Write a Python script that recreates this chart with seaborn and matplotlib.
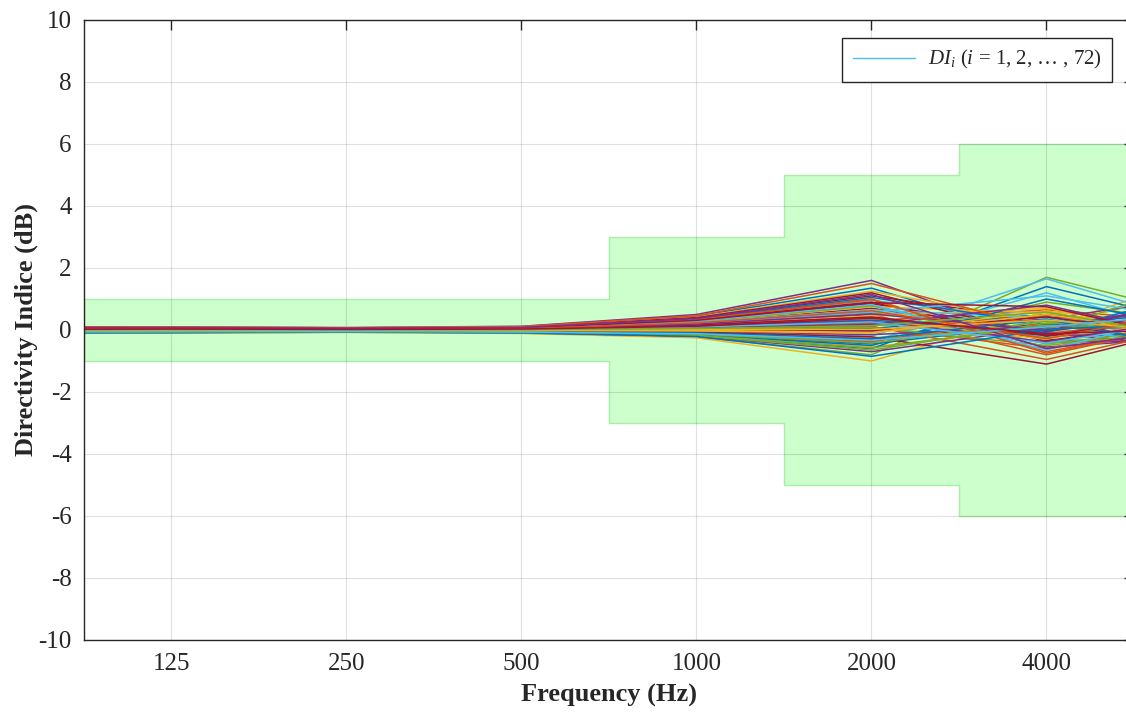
import matplotlib.pyplot as plt
from matplotlib.lines import Line2D
import numpy as np
import pandas as pd
import seaborn as sns

# octave-band centre frequencies (63 and 8000 only set the line ends outside the view)
freqs = [63, 125, 250, 500, 1000, 2000, 4000, 8000]
tick_freqs = [125, 250, 500, 1000, 2000, 4000]
tick_labels = ['125', '250', '500', '1000', '2000', '4000']

# tolerance mask: band edges (Hz) and +/- limit (dB)
mask_edges = [88.4, 707, 1414, 2828, 5657]
mask_limits = [1, 3, 5, 6]

# directivity index of each of the 72 microphones, one list per band
di_63 = [0.05, -0.08, 0.10, 0.02, -0.04, 0.07, -0.10, 0.03, 0.08, -0.06, 0.01, -0.02,
         0.09, -0.09, 0.04, 0.06, -0.05, 0.00, 0.11, -0.07, 0.02, -0.03, 0.05, -0.01,
         0.08, -0.11, 0.03, 0.06, -0.04, 0.10, -0.08, 0.01, 0.04, -0.06, 0.07, -0.02,
         0.09, -0.05, 0.02, 0.05, -0.09, 0.00, 0.06, -0.03, 0.08, -0.07, 0.03, 0.01,
         -0.10, 0.07, -0.01, 0.04, 0.10, -0.04, 0.02, -0.08, 0.06, 0.03, -0.05, 0.09,
         -0.02, 0.05, -0.06, 0.01, 0.07, -0.09, 0.04, -0.03, 0.08, 0.00, -0.07, 0.02]
di_125 = [0.06, -0.07, 0.09, 0.01, -0.05, 0.08, -0.09, 0.02, 0.07, -0.04, 0.03, -0.01,
          0.10, -0.08, 0.05, 0.04, -0.06, 0.01, 0.09, -0.05, 0.03, -0.02, 0.06, -0.03,
          0.07, -0.10, 0.02, 0.05, -0.03, 0.08, -0.07, 0.00, 0.05, -0.05, 0.06, -0.01,
          0.08, -0.06, 0.01, 0.04, -0.08, 0.02, 0.05, -0.02, 0.07, -0.06, 0.04, 0.00,
          -0.09, 0.06, -0.02, 0.03, 0.09, -0.03, 0.01, -0.07, 0.05, 0.02, -0.04, 0.08,
          -0.01, 0.04, -0.05, 0.02, 0.06, -0.08, 0.03, -0.02, 0.07, 0.01, -0.06, 0.03]
di_250 = [0.04, -0.06, 0.07, 0.02, -0.04, 0.06, -0.07, 0.01, 0.05, -0.03, 0.02, -0.02,
          0.08, -0.06, 0.04, 0.03, -0.05, 0.00, 0.07, -0.04, 0.02, -0.03, 0.05, -0.02,
          0.06, -0.08, 0.01, 0.04, -0.02, 0.06, -0.05, 0.01, 0.04, -0.04, 0.05, -0.01,
          0.06, -0.05, 0.02, 0.03, -0.06, 0.01, 0.04, -0.03, 0.05, -0.05, 0.03, 0.01,
          -0.07, 0.05, -0.01, 0.02, 0.07, -0.02, 0.00, -0.05, 0.04, 0.02, -0.03, 0.06,
          -0.02, 0.03, -0.04, 0.01, 0.05, -0.06, 0.02, -0.01, 0.05, 0.00, -0.05, 0.02]
di_500 = [0.08, -0.05, 0.10, 0.03, -0.07, 0.09, -0.10, 0.02, 0.06, -0.04, 0.04, -0.03,
          0.12, -0.08, 0.05, 0.06, -0.06, 0.01, 0.10, -0.05, 0.03, -0.04, 0.07, -0.02,
          0.09, -0.11, 0.02, 0.05, -0.03, 0.08, -0.07, 0.02, 0.06, -0.06, 0.07, -0.01,
          0.09, -0.07, 0.03, 0.04, -0.09, 0.01, 0.06, -0.04, 0.08, -0.06, 0.04, 0.01,
          -0.10, 0.07, -0.02, 0.03, 0.11, -0.03, 0.01, -0.08, 0.05, 0.03, -0.05, 0.09,
          -0.02, 0.05, -0.06, 0.02, 0.07, -0.09, 0.04, -0.02, 0.08, 0.01, -0.07, 0.03]
di_1000 = [0.32, -0.05, 0.45, 0.12, -0.15, 0.28, -0.22, 0.08, 0.38, 0.02, 0.18, -0.08,
           0.50, -0.12, 0.22, 0.25, -0.18, 0.05, 0.42, -0.02, 0.15, -0.10, 0.30, 0.04,
           0.35, -0.25, 0.10, 0.20, -0.06, 0.33, -0.14, 0.06, 0.26, -0.04, 0.27, 0.01,
           0.40, -0.16, 0.09, 0.17, -0.20, 0.03, 0.24, -0.07, 0.36, -0.11, 0.14, 0.07,
           -0.19, 0.29, 0.00, 0.13, 0.46, -0.03, 0.11, -0.13, 0.21, 0.16, -0.09, 0.34,
           -0.01, 0.19, -0.17, 0.10, 0.31, -0.21, 0.23, 0.02, 0.37, 0.05, -0.12, 0.12]
di_2000 = [0.95, -0.30, 1.35, 0.30, -0.55, 0.80, -0.80, 0.20, 1.10, 0.05, 0.50, -0.25,
           1.60, -0.40, 0.60, 0.70, -0.60, 0.10, 1.25, -0.05, 0.40, -0.35, 0.85, 0.15,
           1.00, -1.00, 0.25, 0.55, -0.20, 0.90, -0.45, 0.12, 0.75, -0.15, 0.78, 0.00,
           1.20, -0.50, 0.22, 0.45, -0.70, 0.08, 0.65, -0.22, 1.05, -0.38, 0.35, 0.18,
           -0.65, 0.82, -0.02, 0.32, 1.50, -0.10, 0.28, -0.42, 0.58, 0.42, -0.28, 0.98,
           -0.08, 0.52, -0.58, 0.26, 0.88, -0.85, 0.62, 0.02, 1.15, 0.14, -0.33, 0.38]
di_4000 = [0.40, 0.20, -0.30, 0.65, 0.10, -0.55, 1.70, -0.20, 0.30, 0.50, -0.80, 0.05,
           -0.40, 0.90, 0.15, -0.10, 1.40, -0.60, 0.25, 0.35, -0.25, 1.20, -0.05, 0.45,
           -0.70, 0.60, -0.15, 0.00, 1.65, -0.35, 0.20, -0.95, 0.55, 0.12, -0.45, 0.30,
           -0.20, 1.00, -0.10, 0.70, 0.08, -0.50, 0.38, -1.10, 0.18, 0.48, -0.30, 0.80,
           0.22, -0.65, 0.42, -0.08, 0.05, 0.62, -0.38, 0.28, 1.10, -0.18, 0.35, -0.75,
           0.50, -0.02, 0.15, -0.42, 0.75, 0.02, -0.28, 0.32, -0.60, 0.58, 0.10, -0.12]
di_8000 = [0.10, 0.80, -0.50, 0.20, 1.50, -0.20, 0.30, 0.60, -0.80, 0.00, 0.40, 2.00,
           -0.30, 0.15, 0.90, -0.60, 0.05, 0.50, -0.10, 1.20, 0.25, -0.40, 0.70, -0.90,
           0.35, 0.10, -0.25, 1.80, 0.00, 0.45, -0.70, 0.30, -0.15, 0.85, 0.20, -1.00,
           0.55, -0.05, 0.40, -0.35, 1.00, 0.12, -0.55, 0.30, 0.65, -0.20, 0.95, -0.45,
           0.20, 0.75, -0.30, 1.40, 0.08, -0.65, 0.50, -0.10, 0.18, 0.60, -0.80, 0.35,
           -0.25, 1.10, 0.02, 0.45, -0.50, 0.28, 0.80, -0.15, 0.15, -0.40, 0.62, 0.05]

bands = [di_63, di_125, di_250, di_500, di_1000, di_2000, di_4000, di_8000]
n_mics = len(di_125)

# long-format table for seaborn
rows = []
for f, vals in zip(freqs, bands):
    for i, v in enumerate(vals):
        rows.append({'mic': f'DI{i + 1:02d}', 'freq': f, 'di': v})
df = pd.DataFrame(rows)

# MATLAB default colour order, starting from the light blue one
matlab_colors = ['#0072BD', '#D95319', '#EDB120', '#7E2F8E', '#77AC30', '#4DBEEE', '#A2142F']
mic_names = [f'DI{i + 1:02d}' for i in range(n_mics)]
palette = {m: matlab_colors[(i + 5) % 7] for i, m in enumerate(mic_names)}

sns.set_style('white')
plt.rcParams['font.family'] = ['Liberation Serif', 'DejaVu Serif']
plt.rcParams['mathtext.fontset'] = 'custom'
plt.rcParams['mathtext.rm'] = 'Liberation Serif'
plt.rcParams['mathtext.it'] = 'Liberation Serif:italic'
plt.rcParams['axes.unicode_minus'] = False

fig = plt.figure(figsize=(11.26, 7.14), dpi=100)
ax = fig.add_axes([84 / 1126, 1 - 640 / 714, 1050 / 1126, 620 / 714])

# green tolerance mask
mask_x = mask_edges
mask_y = mask_limits + [mask_limits[-1]]
ax.fill_between(mask_x, [-v for v in mask_y], mask_y, step='post',
                facecolor='#ccffcc', edgecolor='#a8eea8', linewidth=1.0, zorder=1)

sns.lineplot(data=df, x='freq', y='di', hue='mic', hue_order=mic_names,
             palette=palette, legend=False, linewidth=1.1, ax=ax, zorder=2)

ax.set_xscale('log')
ax.set_xlim(mask_edges[0], mask_edges[-1])
ax.set_ylim(-10, 10)
ax.set_xticks(tick_freqs)
ax.set_xticklabels(tick_labels)
ax.xaxis.set_minor_locator(plt.NullLocator())
ax.set_yticks(np.arange(-10, 11, 2))

ax.set_axisbelow('line')
ax.grid(True, color='k', alpha=0.12, linewidth=0.8)
ax.tick_params(direction='in', length=7, width=1.0, top=True, right=True,
               labelsize=18, colors='#262626', pad=9)
for s in ax.spines.values():
    s.set_color('#262626')
    s.set_linewidth(1.0)

ax.set_xlabel('Frequency (Hz)', fontsize=19, fontweight='bold', labelpad=7)
ax.set_ylabel('Directivity Indice (dB)', fontsize=19, fontweight='bold', labelpad=0)

handle = Line2D([], [], color=matlab_colors[5], linewidth=1.0)
leg = ax.legend([handle], [r'$\mathit{DI}_{i}$ ($\mathit{i}$ = 1, 2, … , 72)'],
                loc='upper right', bbox_to_anchor=(1112 / 1126, 1 - 38 / 714),
                bbox_transform=fig.transFigure, borderaxespad=0, fontsize=15,
                fancybox=False, framealpha=1, edgecolor='#262626',
                handlelength=3.0, handletextpad=0.6, borderpad=0.5)
leg.get_frame().set_linewidth(1.0)

fig.savefig('out.png', dpi=100)
